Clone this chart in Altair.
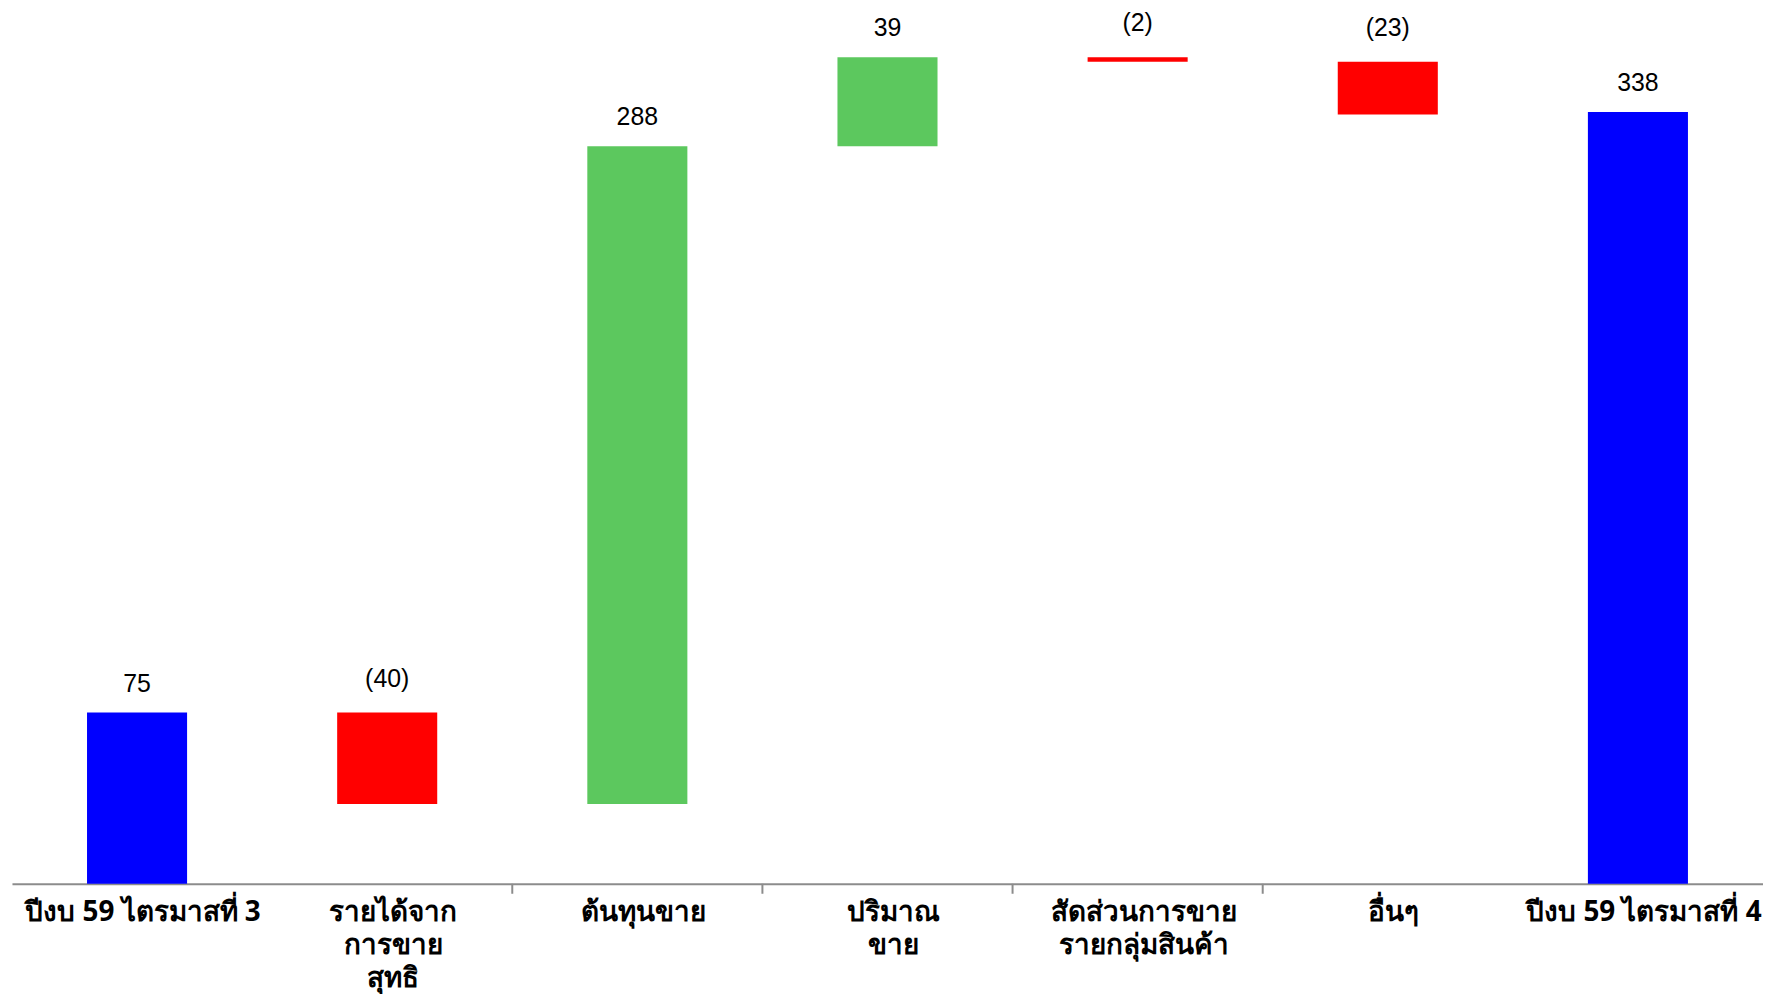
import altair as alt
import pandas as pd

categories = [
    "ปีงบ 59 ไตรมาสที่ 3",
    "รายได้จาก\nการขาย\nสุทธิ",
    "ต้นทุนขาย",
    "ปริมาณ\nขาย",
    "สัดส่วนการขาย\nรายกลุ่มสินค้า",
    "อื่นๆ",
    "ปีงบ 59 ไตรมาสที่ 4",
]
values = [75, -40, 288, 39, -2, -23, 338]
kinds = ["total", "delta", "delta", "delta", "delta", "delta", "total"]
tick_categories = categories[2:6]

rows = []
running = 0
for c, v, k in zip(categories, values, kinds):
    if k == "total":
        start, end = 0, v
        running = v
        typ = "total"
    else:
        start, end = running, running + v
        running = end
        typ = "increase" if v > 0 else "decrease"
    label = f"({abs(v)})" if v < 0 else f"{v}"
    rows.append({"cat": c, "start": start, "end": end, "top": max(start, end),
                 "type": typ, "label": label, "neg": v < 0})
df = pd.DataFrame(rows)
ticks_df = pd.DataFrame({"cat": tick_categories})

W, H = 1761, 876
p_inner = 0.6
step = W / (len(categories) - p_inner + p_inner)

xscale = alt.Scale(domain=categories, paddingInner=p_inner, paddingOuter=p_inner / 2)
yscale = alt.Scale(domain=[0, 381.5], nice=False, zero=True)

x_enc = alt.X(
    "cat:N", scale=xscale, sort=categories, title=None,
    axis=alt.Axis(
        labelExpr="split(datum.label, '\\n')",
        labelAngle=0, labelFont="Noto Sans", labelFontWeight="bold",
        labelFontSize=28, labelColor="#000000", labelLineHeight=33,
        labelPadding=15, labelBaseline="top", labelOverlap=False,
        labelBound=False, labelLimit=400, labelOffset=6,
        ticks=False, domain=True, domainColor="#8c8c8c", domainWidth=2,
        grid=False,
    ),
)

bars = alt.Chart(df).mark_bar().encode(
    x=x_enc,
    y=alt.Y("start:Q", scale=yscale, axis=None),
    y2="end:Q",
    color=alt.Color("type:N",
                    scale=alt.Scale(domain=["total", "increase", "decrease"],
                                    range=["#0000FF", "#5CC85E", "#FF0000"]),
                    legend=None),
)

text_base = alt.Chart(df).encode(
    x=alt.X("cat:N", scale=xscale, sort=categories),
    y=alt.Y("top:Q", scale=yscale),
    text="label:N",
)
texts_pos = text_base.transform_filter("!datum.neg").mark_text(
    baseline="alphabetic", dy=-21, font="Liberation Sans", fontSize=25, color="#000000"
)
texts_neg = text_base.transform_filter("datum.neg").mark_text(
    baseline="alphabetic", dy=-26, font="Liberation Sans", fontSize=25, color="#000000"
)

ticks = alt.Chart(ticks_df).mark_rule(
    color="#8c8c8c", strokeWidth=2, xOffset=-p_inner * step / 2, y2Offset=10
).encode(
    x=alt.X("cat:N", scale=xscale, sort=categories, bandPosition=0),
    y=alt.datum(0),
    y2=alt.datum(0),
)

chart = alt.layer(bars, texts_pos, texts_neg, ticks).properties(
    width=W, height=H,
    autosize=alt.AutoSizeParams(type="none"),
    padding={"left": 4, "top": 2, "right": 0, "bottom": 108},
).configure_view(stroke=None)

chart.save("out.html", embed_options={"renderer": "svg", "actions": False})
